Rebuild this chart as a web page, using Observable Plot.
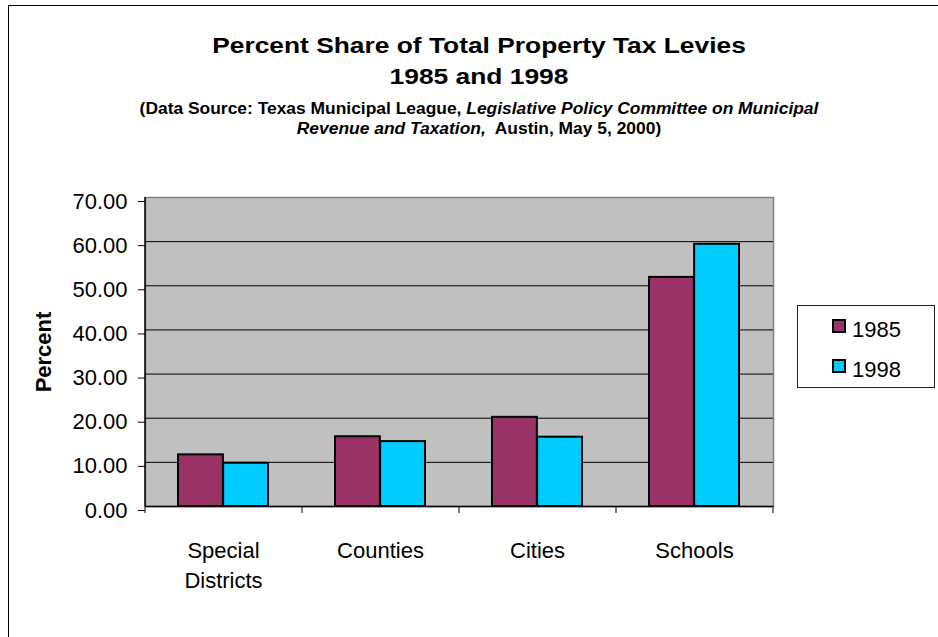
<!DOCTYPE html>
<html><head><meta charset="utf-8">
<script src="https://cdn.jsdelivr.net/npm/d3@7"></script>
<script src="https://cdn.jsdelivr.net/npm/@observablehq/plot@0.6"></script>
<style>
html,body{margin:0;padding:0;background:#fff;overflow:hidden;}
#wrap{position:relative;width:938px;height:637px;overflow:hidden;font-family:Arial,"Liberation Sans",sans-serif;color:#000;}
#border{position:absolute;left:8px;top:5px;width:1200px;height:1200px;border:1px solid #000;box-sizing:border-box;}
#chart{position:absolute;left:0;top:0;}
.t{position:absolute;left:0;width:958px;text-align:center;font-weight:bold;white-space:nowrap;transform-origin:479px 0;}
.t1{font-size:22px;line-height:22px;transform:scaleX(1.198);}
.t2{font-size:16px;line-height:16px;transform:scaleX(1.088);}
#legend{position:absolute;left:797px;top:305px;width:138px;height:83px;border:1px solid #222;box-sizing:border-box;background:#fff;}
.li{position:absolute;left:0;width:136px;height:22px;font-size:22px;line-height:22px;}
.sw{position:absolute;left:34px;top:0;width:14px;height:14px;border:2px solid #000;box-sizing:border-box;}
.lt{position:absolute;left:54px;top:0;}
</style></head>
<body><div id="wrap">
<div id="border"></div>
<div id="chart"></div>
<div class="t t1" style="top:34.7px">Percent Share of Total Property Tax Levies</div>
<div class="t t1" style="top:66.4px">1985 and 1998</div>
<div class="t t2" style="top:100.5px">(Data Source: Texas Municipal League, <i>Legislative Policy Committee on Municipal</i></div>
<div class="t t2" style="top:121px"><i>Revenue and Taxation,</i>&nbsp; Austin, May 5, 2000)</div>
<div id="legend"></div>
</div>
<script>
const categories = ["Special\nDistricts", "Counties", "Cities", "Schools"];
const years = ["1985", "1998"];
const values1985 = [11.7, 15.8, 20.2, 51.9];
const values1998 = [9.8, 14.7, 15.7, 59.4];
const yTicks = [0, 10, 20, 30, 40, 50, 60, 70];
const colors = ["#993366", "#00CCFF"];

const W = 938, H = 637;
const mL = 145, mR = 938 - 773, mT = 197, mB = 131;
const padInner = 0.425;
const step = (W - mL - mR) / categories.length;
const bw = step * (1 - padInner);

const rows = [];
categories.forEach((c, i) => {
  rows.push({category: c, year: years[0], value: values1985[i]});
  rows.push({category: c, year: years[1], value: values1998[i]});
});

const chart = Plot.plot({
  width: W, height: H,
  marginLeft: mL, marginRight: mR, marginTop: mT, marginBottom: mB,
  style: {fontFamily: 'Arial, "Liberation Sans", sans-serif', fontSize: "22px", background: "transparent", color: "#000", overflow: "visible"},
  x: {domain: categories, paddingInner: padInner, paddingOuter: padInner / 2, axis: null},
  y: {domain: [0, 70], axis: null},
  marks: [
    Plot.frame({fill: "#c0c0c0", stroke: "#808080", strokeWidth: 1.5}),
    Plot.ruleY(yTicks.filter(t => t > 0 && t < 70), {stroke: "#000", strokeWidth: 1}),
    Plot.barY(rows.filter(d => d.year === years[0]), {x: "category", y: "value", fill: colors[0], stroke: "#000", strokeWidth: 2, insetRight: bw / 2}),
    Plot.barY(rows.filter(d => d.year === years[1]), {x: "category", y: "value", fill: colors[1], stroke: "#000", strokeWidth: 2, insetLeft: bw / 2}),
    Plot.ruleY([0], {stroke: "#000", strokeWidth: 1.5}),
    Plot.ruleX([categories[0]], {dx: -step / 2, stroke: "#000", strokeWidth: 1.5}),
    Plot.axisY({ticks: yTicks, tickSize: 7, tickPadding: 11, tickFormat: d => d.toFixed(2), fontSize: 22, dy: 4, label: null, stroke: "#000"}),
    Plot.axisX({tickSize: 0, tickPadding: 30, fontSize: 22, lineHeight: 30 / 22, label: null}),
    Plot.axisX({tickSize: 7, tickFormat: () => "", dx: -step / 2, label: null, stroke: "#000"}),
    Plot.axisX({ticks: [categories[categories.length - 1]], tickSize: 7, tickFormat: () => "", dx: step / 2, label: null, stroke: "#000"}),
    Plot.text(["Percent"], {frameAnchor: "left", textAnchor: "middle", dx: -102, rotate: -90, fontWeight: "bold", fontSize: 22})
  ]
});
document.getElementById("chart").appendChild(chart);

const legend = document.getElementById("legend");
const tops = [13, 52.6];
years.forEach((y, i) => {
  const li = document.createElement("div");
  li.className = "li";
  li.style.top = tops[i] + "px";
  li.innerHTML = `<div class="sw" style="background:${colors[i]}"></div><div class="lt">${y}</div>`;
  legend.appendChild(li);
});
</script>
</body></html>
